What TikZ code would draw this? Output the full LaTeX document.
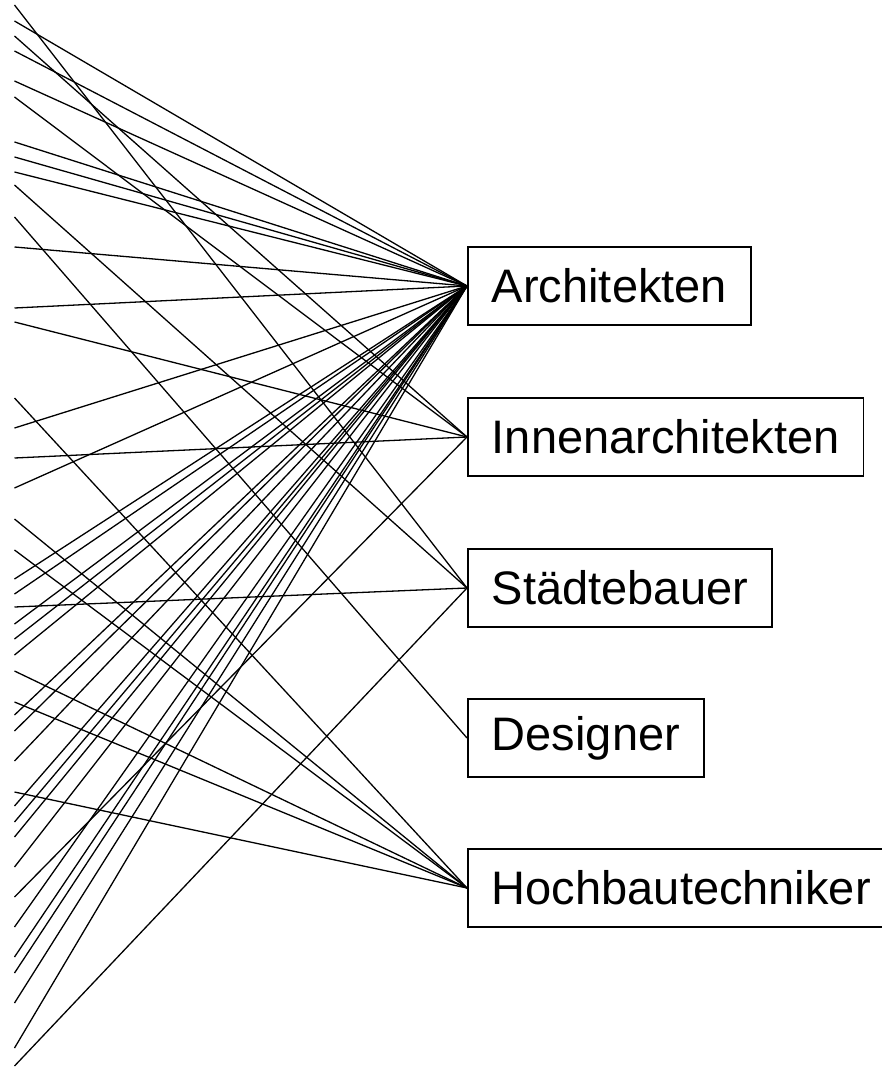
\documentclass[tikz,border=0pt]{standalone}
\usepackage{fontspec}
\setmainfont{Liberation Sans}
\begin{document}
\begin{tikzpicture}[x=1pt,y=-1pt,
  box/.style={draw, line width=1.8pt, inner xsep=24pt, inner ysep=0pt, minimum height=78pt, anchor=west, font=\fontsize{47}{56}\selectfont},
  conn/.style={line width=1.3pt}]
\useasboundingbox (0,0) rectangle (882,1067);
\clip (0,0) rectangle (882,1067);
\node[box] (A) at (467,286) {Architekten};
\node[box] (I) at (467,437) {Innenarchitekten};
\node[box] (S) at (467,588) {Städtebauer};
\node[box] (D) at (467,738) {Designer};
\node[box] (H) at (467,888) {Hochbautechniker};
\foreach \y/\t [count=\i] in {5/S,21/A,36/I,51/A,81/A,97/I,142/A,157/A,172/A,185/S,217/D,247/A,308/A,322/I,398/H,428/A,458/I,488/A,519/H,550/H,579/A,594/A,607/S,624/A,639/A,655/A,671/H,702/H,715/A,731/A,761/A,792/H,806/A,822/A,837/A,867/A,897/I,927/A,957/A,973/A,1003/A,1048/A,1066/S}{
  \coordinate (p\i) at (14.5,\y);
  \draw[conn] (p\i) -- (\t.west);
}
\end{tikzpicture}
\end{document}
